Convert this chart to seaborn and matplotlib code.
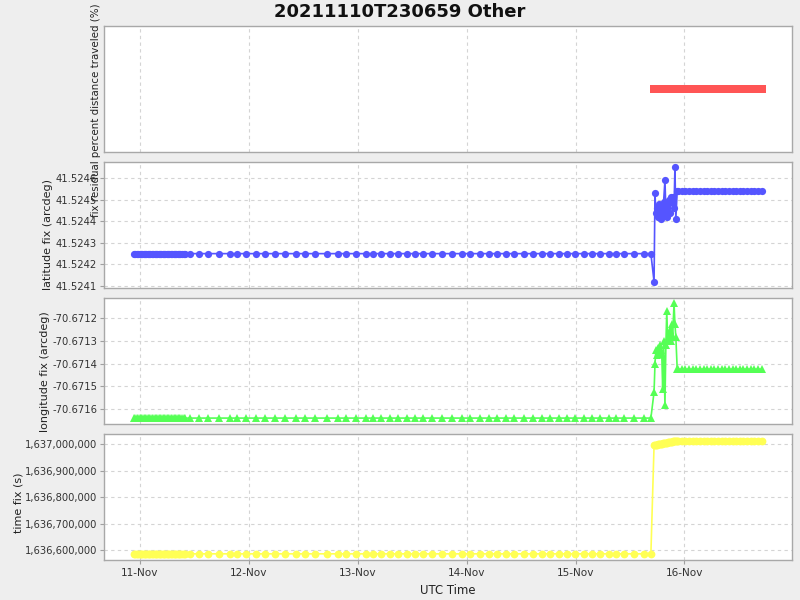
import numpy as np
import pandas as pd
import matplotlib
matplotlib.use("Agg")
import matplotlib.pyplot as plt
import matplotlib.dates as mdates
from matplotlib.ticker import FixedLocator, FuncFormatter, NullFormatter
import seaborn as sns

# ---------------- data (hours since 2021-11-11 00:00 UTC) ----------------
hours_before = [-1.3, -1.0, -0.7, -0.4, -0.1, 0.2, 0.5, 0.8, 1.1, 1.4, 1.7, 2.0, 2.3,
                2.6, 2.9, 3.2, 3.5, 3.8, 4.1, 4.4, 4.7, 5.0, 5.3, 5.6, 5.9, 6.2, 6.5,
                6.8, 7.1, 7.4, 7.7, 8.0, 8.3, 8.6, 8.9, 9.2, 9.6, 10.0,
                11.0, 13.0, 15.0, 17.4, 19.8, 21.4, 23.4, 25.6, 27.6, 29.8, 32.0,
                34.4, 36.4, 38.6, 41.2, 43.6, 45.4, 47.6, 49.8, 51.4, 53.1, 55.1,
                56.9, 58.8, 60.6, 62.4, 64.4, 66.6, 68.8, 71.0, 72.7, 74.9, 76.9,
                78.7, 80.7, 82.4, 84.6, 86.6, 88.6, 90.4, 92.3, 94.1, 95.9, 97.9,
                99.6, 101.4, 103.4, 104.9, 106.7, 108.9, 111.1, 112.6]
lat_before = [41.52425] * len(hours_before)
lon_before = [-70.67164] * len(hours_before)
time_before = [1636585619] * len(hours_before)

hours_cluster = [113.3, 113.5, 113.7, 113.9, 114.1, 114.4, 114.6, 114.8, 115.0, 115.2,
                 115.4, 115.7, 115.9, 116.1, 116.3, 116.5, 116.8, 117.0, 117.2, 117.4,
                 117.7, 117.9, 118.1, 118.4]
lat_cluster = [41.52412, 41.52453, 41.52444, 41.52446, 41.52442, 41.52448, 41.52445,
               41.52441, 41.52447, 41.52443, 41.52449, 41.52459, 41.52445, 41.52442,
               41.52448, 41.52450, 41.52444, 41.52451, 41.52449, 41.52451, 41.52446,
               41.52465, 41.52441, 41.52454]
lon_cluster = [-70.671525, -70.671402, -70.671341, -70.671363, -70.671330, -70.671350,
               -70.671320, -70.671340, -70.671360, -70.671512, -70.671300, -70.671582,
               -70.671320, -70.671169, -70.671297, -70.671280, -70.671253, -70.671300,
               -70.671226, -70.671284, -70.671134, -70.671226, -70.671284, -70.671424]
time_cluster = [1636996700, 1636997400, 1636998100, 1636998800, 1636999500, 1637000400,
                1637001100, 1637001800, 1637002500, 1637003200, 1637003900, 1637004900,
                1637005600, 1637006300, 1637007000, 1637007700, 1637008700, 1637009400,
                1637010100, 1637010800, 1637011700, 1637012400, 1637013100, 1637013000]

hours_after = [118.6, 119.4, 120.2, 121.0, 121.8, 122.6, 123.4, 124.2, 125.0, 125.8,
               126.6, 127.4, 128.2, 129.0, 129.8, 130.6, 131.4, 132.2, 133.0, 133.8,
               134.6, 135.4, 136.2, 137.0]
lat_after = [41.52454] * len(hours_after)
lon_after = [-70.671425] * len(hours_after)
time_after = [1637013000] * len(hours_after)

resid_hours = hours_cluster + hours_after
resid_pct = [0.0] * len(resid_hours)

lat_ticks = [41.5241, 41.5242, 41.5243, 41.5244, 41.5245, 41.5246]
lon_ticks = [-70.6716, -70.6715, -70.6714, -70.6713, -70.6712]
time_ticks = [1636600000, 1636700000, 1636800000, 1636900000, 1637000000]

title = "20211110T230659 Other"
base = pd.Timestamp("2021-11-11 00:00:00")

def to_dt(hours):
    return [base + pd.Timedelta(hours=h) for h in hours]

all_hours = hours_before + hours_cluster + hours_after
df = pd.DataFrame({
    "t": to_dt(all_hours),
    "lat": lat_before + lat_cluster + lat_after,
    "lon": lon_before + lon_cluster + lon_after,
    "tfix": time_before + time_cluster + time_after,
})
df_res = pd.DataFrame({"t": to_dt(resid_hours), "pct": resid_pct})

# ---------------- figure ----------------
sns.set_theme(style="white")
plt.rcParams["font.family"] = ["DejaVu Sans"]

fig = plt.figure(figsize=(8, 6), dpi=100, facecolor="#eeeeee")
left, width, h = 104 / 800, 688 / 800, 126 / 600
tops = [26, 162, 298, 434]
axes = [fig.add_axes([left, 1 - (t + 126) / 600, width, h]) for t in tops]

xmin = base + pd.Timedelta(hours=-7.93)
xmax = base + pd.Timedelta(hours=143.7)

common = dict(estimator=None, sort=False, linewidth=1.2, markeredgewidth=0)
sns.lineplot(data=df_res, x="t", y="pct", ax=axes[0], color="#ff5555",
             marker="s", markersize=6, **common)
sns.lineplot(data=df, x="t", y="lat", ax=axes[1], color="#5555ff",
             marker="o", markersize=5.2, **common)
sns.lineplot(data=df, x="t", y="lon", ax=axes[2], color="#55ff55",
             marker="^", markersize=6, **common)
sns.lineplot(data=df, x="t", y="tfix", ax=axes[3], color="#ffff55",
             marker="o", markersize=5.6, **common)

axes[0].set_ylim(-1, 1)
axes[1].set_ylim(41.524091, 41.524674)
axes[2].set_ylim(-70.671666, -70.671112)
axes[3].set_ylim(1636562264, 1637038900)

axes[1].yaxis.set_major_locator(FixedLocator(lat_ticks))
axes[1].yaxis.set_major_formatter(FuncFormatter(lambda v, p: f"{v:.4f}"))
axes[2].yaxis.set_major_locator(FixedLocator(lon_ticks))
axes[2].yaxis.set_major_formatter(FuncFormatter(lambda v, p: f"{v:.4f}"))
axes[3].yaxis.set_major_locator(FixedLocator(time_ticks))
axes[3].yaxis.set_major_formatter(FuncFormatter(lambda v, p: f"{v:,.0f}"))
axes[0].set_yticks([])

ylabels = ["fix residual percent distance traveled (%)", "latitude fix (arcdeg)",
           "longitude fix (arcdeg)", "time fix (s)"]
label_xy = [(-0.004, 0.33), (-0.074, 0.421), (-0.0785, 0.413), (-0.1177, 0.452)]
label_sizes = [7.4, 8.0, 8.0, 8.0]

for i, ax in enumerate(axes):
    ax.set_facecolor("white")
    ax.set_xlim(xmin, xmax)
    ax.xaxis.set_major_locator(mdates.DayLocator())
    ax.xaxis.set_major_formatter(mdates.DateFormatter("%d-%b"))
    ax.grid(True, color="#d4d4d4", linestyle=(0, (3, 3)), linewidth=0.8)
    for s in ax.spines.values():
        s.set_color("#a8a8a8")
        s.set_linewidth(1.0)
    ax.tick_params(axis="both", which="major", direction="out", length=3,
                   width=0.8, color="#a0a0a0", labelsize=7.2, labelcolor="#333333",
                   pad=2, left=True, bottom=True)
    ax.set_xlabel("")
    ax.set_ylabel(ylabels[i], fontsize=label_sizes[i], color="#222222")
    ax.yaxis.set_label_coords(*label_xy[i])
    if i < 3:
        ax.xaxis.set_major_formatter(NullFormatter())
        ax.tick_params(axis="x", length=0)

axes[0].tick_params(axis="y", length=0)
axes[3].set_xlabel("UTC Time", fontsize=8.4, color="#222222", labelpad=4)
axes[3].tick_params(axis="x", labelsize=7.6, pad=3)

fig.text(0.5, 1 - 12 / 600, title, ha="center", va="center",
         fontsize=13, fontweight="bold", color="#111111")

fig.savefig("out.png", dpi=100, facecolor=fig.get_facecolor())
